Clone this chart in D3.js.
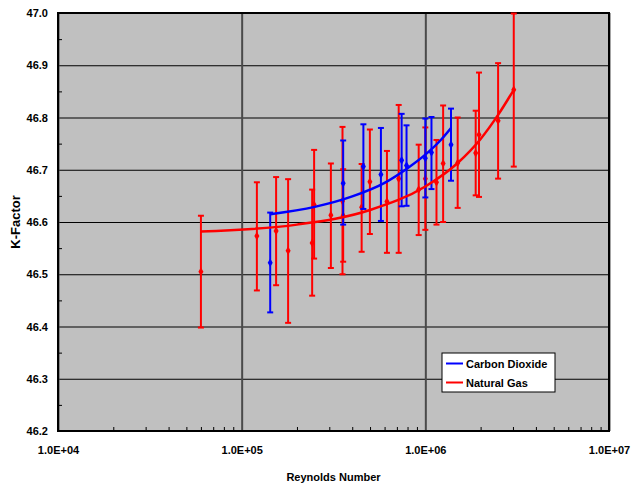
<!DOCTYPE html>
<html>
<head>
<meta charset="utf-8">
<script src="https://cdn.jsdelivr.net/npm/d3@7"></script>
<style>
  body { margin: 0; background: #fff; }
  svg text { font-family: "Liberation Sans", Arial, sans-serif; font-weight: bold; }
</style>
</head>
<body>
<div id="chart"></div>
<script>
// Natural gas points: Reynolds number, K-factor, error bar low/high
var gasRe   = [6.0e4, 1.21e5, 1.54e5, 1.79e5, 2.42e5, 2.48e5, 3.06e5, 3.54e5, 3.57e5, 4.5e5, 4.99e5,
               6.18e5, 7.16e5, 9.2e5, 1.0e6, 1.15e6, 1.25e6, 1.5e6, 1.88e6, 1.96e6, 2.49e6, 3.03e6];
var gasK    = [46.505, 46.573, 46.583, 46.545, 46.560, 46.633, 46.613, 46.640, 46.612, 46.628, 46.677,
               46.639, 46.683, 46.662, 46.683, 46.676, 46.712, 46.713, 46.732, 46.767, 46.794, 46.853];
var gasLow  = [46.398, 46.469, 46.479, 46.407, 46.459, 46.530, 46.512, 46.500, 46.524, 46.543, 46.577,
               46.541, 46.541, 46.575, 46.585, 46.595, 46.600, 46.627, 46.651, 46.648, 46.683, 46.706];
var gasHigh = [46.612, 46.676, 46.686, 46.682, 46.662, 46.738, 46.712, 46.782, 46.701, 46.711, 46.777,
               46.736, 46.824, 46.748, 46.781, 46.757, 46.823, 46.800, 46.813, 46.886, 46.904, 46.999];

// Carbon dioxide points
var co2Re   = [1.43e5, 3.57e5, 4.6e5, 5.73e5, 7.43e5, 7.9e5, 1.0e6, 1.08e6, 1.38e6];
var co2K    = [46.522, 46.674, 46.706, 46.691, 46.718, 46.708, 46.722, 46.733, 46.748];
var co2Low  = [46.427, 46.595, 46.625, 46.602, 46.630, 46.631, 46.647, 46.663, 46.679];
var co2High = [46.618, 46.756, 46.787, 46.780, 46.807, 46.785, 46.798, 46.801, 46.817];

// trend curves
var gasTrendRe = [6.0e4, 2.0e5, 5.0e5, 1.0e6, 1.5e6, 2.0e6, 2.5e6, 3.03e6];
var gasTrendK  = [46.582, 46.595, 46.623, 46.668, 46.713, 46.759, 46.806, 46.853];
var co2TrendRe = [1.43e5, 2.5e5, 4.0e5, 6.0e5, 8.0e5, 1.0e6, 1.2e6, 1.38e6];
var co2TrendK  = [46.615, 46.629, 46.649, 46.675, 46.703, 46.729, 46.755, 46.780];

var xTicks = [1e4, 1e5, 1e6, 1e7];
var yTicks = [46.2, 46.3, 46.4, 46.5, 46.6, 46.7, 46.8, 46.9, 47.0];
var seriesNames = ["Carbon Dioxide", "Natural Gas"];
var seriesColors = ["#0000FF", "#FF0000"];

var svgWidth = 631, svgHeight = 484;
var margin = { top: 13, right: 22, bottom: 53, left: 58 };
var chartWidth = svgWidth - margin.left - margin.right;
var chartHeight = svgHeight - margin.top - margin.bottom;

var svg = d3.select("#chart").append("svg")
    .attr("width", svgWidth)
    .attr("height", svgHeight);

var chartGroup = svg.append("g")
    .attr("transform", `translate(${margin.left}, ${margin.top})`);

var xScale = d3.scaleLog().domain([1e4, 1e7]).range([0, chartWidth]);
var yScale = d3.scaleLinear().domain([46.2, 47.0]).range([chartHeight, 0]);

// plot background
chartGroup.append("rect")
    .attr("width", chartWidth)
    .attr("height", chartHeight)
    .attr("fill", "#C0C0C0");

// horizontal gridlines
chartGroup.append("g")
    .call(d3.axisLeft(yScale).tickValues(yTicks).tickSize(-chartWidth).tickFormat(""))
    .call(g => g.select(".domain").remove())
    .selectAll("line").attr("stroke", "#000").attr("stroke-width", 1);

// vertical gridlines at decades
chartGroup.append("g")
    .attr("transform", `translate(0, ${chartHeight})`)
    .call(d3.axisBottom(xScale).tickValues(xTicks).tickSize(-chartHeight).tickFormat(""))
    .call(g => g.select(".domain").remove())
    .selectAll("line").attr("stroke", "#4a4a4a").attr("stroke-width", 2);

// minor ticks inside the frame
var yMinor = d3.range(46.25, 47.0, 0.1);
chartGroup.append("g")
    .call(d3.axisRight(yScale).tickValues(yMinor).tickSize(4).tickFormat(""))
    .call(g => g.select(".domain").remove())
    .selectAll("line").attr("stroke", "#000");

var xMinor = [];
[1e4, 1e5, 1e6].forEach(function(d) {
    for (var m = 2; m <= 9; m++) xMinor.push(d * m);
});
chartGroup.append("g")
    .attr("transform", `translate(0, ${chartHeight})`)
    .call(d3.axisTop(xScale).tickValues(xMinor).tickSize(4).tickFormat(""))
    .call(g => g.select(".domain").remove())
    .selectAll("line").attr("stroke", "#000");

// tick labels
var yAxis = chartGroup.append("g")
    .call(d3.axisLeft(yScale).tickValues(yTicks).tickSize(0).tickPadding(10).tickFormat(d3.format(".1f")));
yAxis.select(".domain").remove();
yAxis.selectAll("text").attr("font-size", 11).attr("fill", "#000");

var xAxis = chartGroup.append("g")
    .attr("transform", `translate(0, ${chartHeight})`)
    .call(d3.axisBottom(xScale).tickValues(xTicks).tickSize(0).tickPadding(15)
        .tickFormat(d => "1.0E+" + String(Math.round(Math.log10(d))).padStart(2, "0")));
xAxis.select(".domain").remove();
xAxis.selectAll("text").attr("font-size", 11).attr("fill", "#000");

// frame
chartGroup.append("rect")
    .attr("width", chartWidth)
    .attr("height", chartHeight)
    .attr("fill", "none")
    .attr("stroke", "#000")
    .attr("stroke-width", 2);

function drawSeries(re, k, low, high, color) {
    var data = re.map((d, i) => ({ re: d, k: k[i], low: low[i], high: high[i] }));
    var g = chartGroup.append("g");
    var bars = g.selectAll("g.bar").data(data).enter().append("g").attr("class", "bar");
    bars.append("line")
        .attr("x1", d => xScale(d.re)).attr("x2", d => xScale(d.re))
        .attr("y1", d => yScale(d.low)).attr("y2", d => yScale(d.high))
        .attr("stroke", color).attr("stroke-width", 2);
    bars.append("line")
        .attr("x1", d => xScale(d.re) - 3).attr("x2", d => xScale(d.re) + 3)
        .attr("y1", d => yScale(d.low)).attr("y2", d => yScale(d.low))
        .attr("stroke", color).attr("stroke-width", 2);
    bars.append("line")
        .attr("x1", d => xScale(d.re) - 3).attr("x2", d => xScale(d.re) + 3)
        .attr("y1", d => yScale(d.high)).attr("y2", d => yScale(d.high))
        .attr("stroke", color).attr("stroke-width", 2);
    g.selectAll("path.pt").data(data).enter().append("path")
        .attr("class", "pt")
        .attr("d", d3.symbol().type(d3.symbolDiamond).size(22))
        .attr("transform", d => `translate(${xScale(d.re)}, ${yScale(d.k)})`)
        .attr("fill", color);
}

function drawTrend(re, k, color) {
    var line = d3.line()
        .x(d => xScale(d[0]))
        .y(d => yScale(d[1]))
        .curve(d3.curveMonotoneX);
    chartGroup.append("path")
        .datum(re.map((d, i) => [d, k[i]]))
        .attr("d", line)
        .attr("fill", "none")
        .attr("stroke", color)
        .attr("stroke-width", 2.5);
}

drawSeries(gasRe, gasK, gasLow, gasHigh, seriesColors[1]);
drawSeries(co2Re, co2K, co2Low, co2High, seriesColors[0]);
drawTrend(gasTrendRe, gasTrendK, seriesColors[1]);
drawTrend(co2TrendRe, co2TrendK, seriesColors[0]);

// axis titles
svg.append("text")
    .attr("x", margin.left + chartWidth / 2)
    .attr("y", 481)
    .attr("text-anchor", "middle")
    .attr("font-size", 11)
    .text("Reynolds Number");

svg.append("text")
    .attr("transform", `translate(20, ${margin.top + chartHeight / 2}) rotate(-90)`)
    .attr("text-anchor", "middle")
    .attr("font-size", 13)
    .text("K-Factor");

// legend
var legend = svg.append("g").attr("transform", "translate(442, 353)");
legend.append("rect")
    .attr("width", 113)
    .attr("height", 39)
    .attr("fill", "#fff")
    .attr("stroke", "#000")
    .attr("stroke-width", 1);
seriesNames.forEach(function(name, i) {
    var y = 10.5 + i * 19;
    legend.append("line")
        .attr("x1", 4).attr("x2", 21)
        .attr("y1", y).attr("y2", y)
        .attr("stroke", seriesColors[i])
        .attr("stroke-width", 2);
    legend.append("text")
        .attr("x", 24)
        .attr("y", y + 4)
        .attr("font-size", 11)
        .text(name);
});
</script>
</body>
</html>
